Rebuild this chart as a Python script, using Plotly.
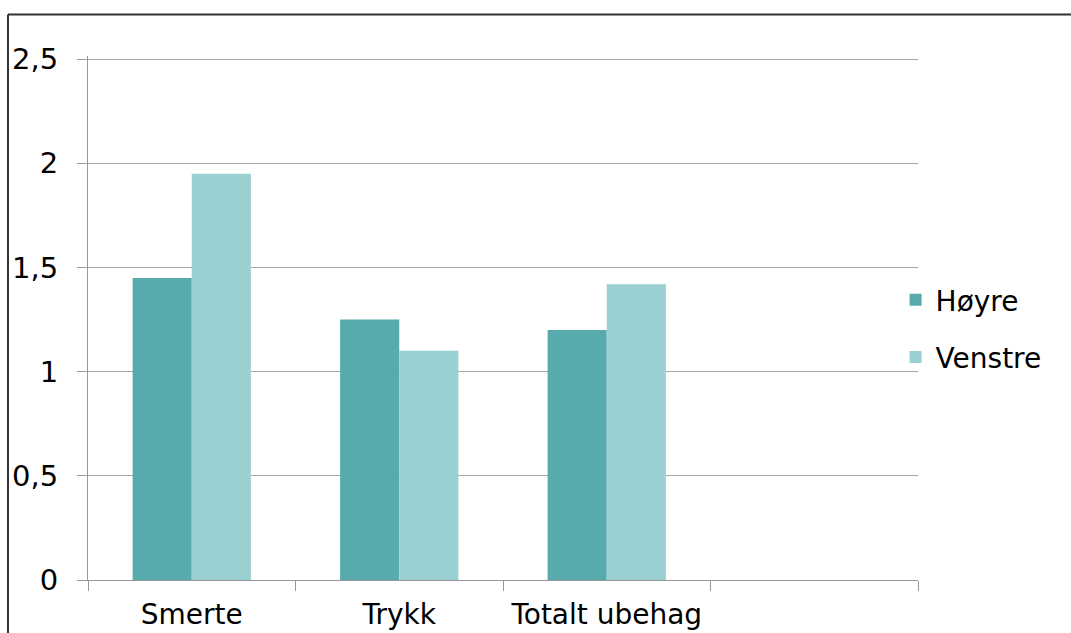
import plotly.graph_objects as go

categories = ["Smerte", "Trykk", "Totalt ubehag"]
all_slots = ["Smerte", "Trykk", "Totalt ubehag", " "]
hoyre = [1.45, 1.25, 1.20]
venstre = [1.95, 1.10, 1.42]
y_ticks = [0, 0.5, 1, 1.5, 2, 2.5]
y_labels = ["0", "0,5", "1", "1,5", "2", "2,5"]

FONT = "DejaVu Sans, Verdana, sans-serif"

fig = go.Figure()
fig.add_trace(go.Bar(name="Høyre", x=categories, y=hoyre,
                     marker=dict(color="#58abad", line=dict(width=0)),
                     legendgroup="a"))
fig.add_trace(go.Bar(name="Venstre", x=categories, y=venstre,
                     marker=dict(color="#9bd0d2", line=dict(width=0)),
                     legendgroup="b"))

fig.update_layout(
    width=1071, height=633,
    margin=dict(l=88, r=153, t=56, b=53, autoexpand=False),
    paper_bgcolor="white", plot_bgcolor="white",
    font=dict(family=FONT, size=28, color="black"),
    barmode="group", bargap=0.43, bargroupgap=0,
    legend=dict(x=0.973, xanchor="left", y=0.48, yanchor="middle",
                font=dict(size=28), traceorder="grouped",
                tracegroupgap=18, itemwidth=30, bgcolor="rgba(0,0,0,0)"),
    xaxis=dict(type="category", categoryorder="array", categoryarray=all_slots,
               range=[-0.5, 3.5], tickson="boundaries", ticks="outside",
               ticklen=10, tickcolor="#999999", showline=True,
               linecolor="#999999", linewidth=1, showgrid=False,
               tickangle=0, ticklabelstandoff=9, tickfont=dict(size=28)),
    yaxis=dict(range=[0, 2.515], tickvals=y_ticks, ticktext=y_labels,
               ticks="outside", ticklen=10, tickcolor="#999999",
               showline=True, linecolor="#999999", linewidth=1,
               showgrid=True, gridcolor="#a6a6a6", gridwidth=1,
               zeroline=False, ticklabelstandoff=13, tickfont=dict(size=29)),
    shapes=[
        dict(type="line", xref="paper", yref="paper",
             x0=-0.0964, x1=1.3, y0=1.079, y1=1.079,
             line=dict(color="#333333", width=2)),
        dict(type="line", xref="paper", yref="paper",
             x0=-0.0964, x1=-0.0964, y0=1.079, y1=-0.2,
             line=dict(color="#333333", width=2)),
    ],
)

fig.write_html("out.html")
